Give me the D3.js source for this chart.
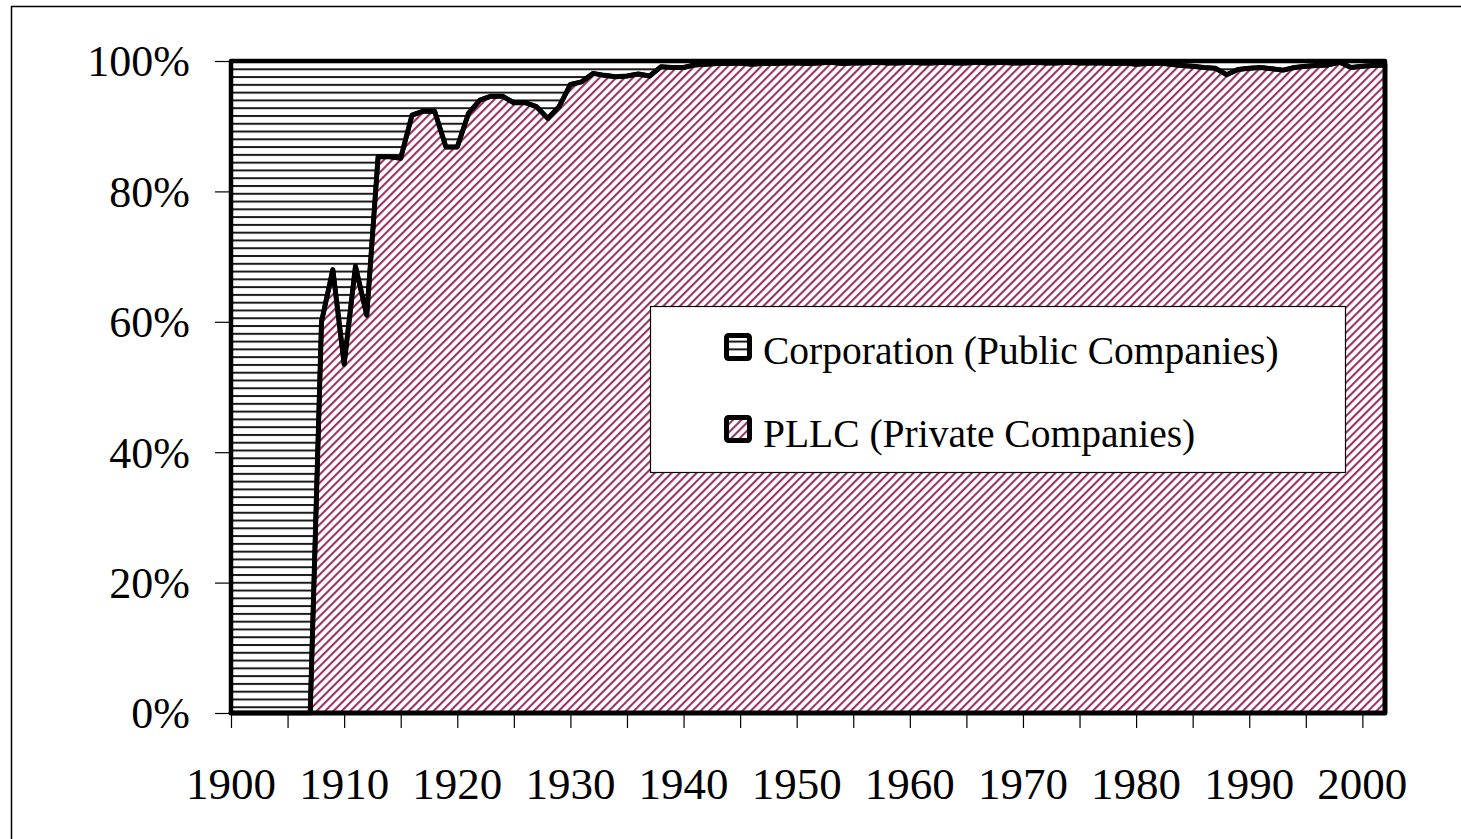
<!DOCTYPE html>
<html>
<head>
<meta charset="utf-8">
<script src="https://cdn.jsdelivr.net/npm/d3@7"></script>
<style>
  body { margin: 0; background: #fff; }
  svg text { font-family: "Liberation Serif", "Times New Roman", serif; fill: #000; }
</style>
</head>
<body>
<div id="chart"></div>
<script>

// Share of firms by legal form, per year (percent)
var years = d3.range(1900, 2003);

var pllcShare = [
	0, 0, 0, 0, 0, 0, 0, 0, 60, 68,                                  // 1900-1909
	53.5, 68.5, 61, 85.3, 85.3, 85.1, 91.7, 92.3, 92.3, 86.8,          // 1910-1919
	86.8, 92, 94, 94.6, 94.6, 93.6, 93.6, 93, 91.2, 93,                // 1920-1929
	96.4, 96.8, 98.1, 97.8, 97.6, 97.7, 98, 97.7, 99.1, 99,            // 1930-1939
	99, 99.4, 99.5, 99.6, 99.6, 99.7, 99.5, 99.6, 99.6, 99.7,          // 1940-1949
	99.7, 99.6, 99.7, 99.8, 99.6, 99.7, 99.7, 99.8, 99.7, 99.7,        // 1950-1959
	99.8, 99.7, 99.7, 99.8, 99.7, 99.7, 99.8, 99.7, 99.8, 99.7,        // 1960-1969
	99.7, 99.8, 99.7, 99.7, 99.8, 99.7, 99.7, 99.7, 99.6, 99.7,        // 1970-1979
	99.5, 99.6, 99.7, 99.5, 99.3, 99.2, 99, 98.9, 97.9, 98.7,          // 1980-1989
	98.9, 99, 98.8, 98.6, 99, 99.2, 99.3, 99.4, 99.8, 99,              // 1990-1999
	99.2, 99.3, 99.4                                                   // 2000-2002
];

var corpShare = [
	100, 100, 100, 100, 100, 100, 100, 100, 40, 32,
	46.5, 31.5, 39, 14.7, 14.7, 14.9, 8.3, 7.7, 7.7, 13.2,
	13.2, 8, 6, 5.4, 5.4, 6.4, 6.4, 7, 8.8, 7,
	3.6, 3.2, 1.9, 2.2, 2.4, 2.3, 2, 2.3, 0.9, 1,
	1, 0.6, 0.5, 0.4, 0.4, 0.3, 0.5, 0.4, 0.4, 0.3,
	0.3, 0.4, 0.3, 0.2, 0.4, 0.3, 0.3, 0.2, 0.3, 0.3,
	0.2, 0.3, 0.3, 0.2, 0.3, 0.3, 0.2, 0.3, 0.2, 0.3,
	0.3, 0.2, 0.3, 0.3, 0.2, 0.3, 0.3, 0.3, 0.4, 0.3,
	0.5, 0.4, 0.3, 0.5, 0.7, 0.8, 1, 1.1, 2.1, 1.3,
	1.1, 1, 1.2, 1.4, 1, 0.8, 0.7, 0.6, 0.2, 1,
	0.8, 0.7, 0.6
];

var seriesNames = ["Corporation (Public Companies)", "PLLC (Private Companies)"];
var yTicks = [0, 20, 40, 60, 80, 100];
var xLabelYears = d3.range(1900, 2001, 10);
var xTickYears = d3.range(1900, 2001, 5);

var data = years.map(function(y, i) {
	return { year: y, pllc: pllcShare[i], corp: corpShare[i] };
});

// Display sizes
var width = 1461,
	height = 839;

var x = d3.scaleLinear().domain([1900, 2002]).range([231, 1385]);
var y = d3.scaleLinear().domain([0, 100]).range([713, 61]);

var svg = d3.select("#chart").append("svg")
	.attr("width", width)
	.attr("height", height);

// Fill patterns
var defs = svg.append("defs");

var hPattern = defs.append("pattern")
	.attr("id", "hlines")
	.attr("patternUnits", "userSpaceOnUse")
	.attr("width", 10)
	.attr("height", 7.78)
	.attr("y", 69.3 - 1);
hPattern.append("rect").attr("width", 10).attr("height", 7.78).attr("fill", "#fff");
hPattern.append("rect").attr("y", 0).attr("width", 10).attr("height", 2).attr("fill", "#1a1a1a");

var dPattern = defs.append("pattern")
	.attr("id", "diag")
	.attr("patternUnits", "userSpaceOnUse")
	.attr("width", 5.9)
	.attr("height", 20)
	.attr("patternTransform", "rotate(45)");
dPattern.append("rect").attr("width", 5.9).attr("height", 20).attr("fill", "#fff");
dPattern.append("rect").attr("width", 2.1).attr("height", 20).attr("fill", "#993366");

// Outer chart border (only top and left fall inside the picture)
svg.append("rect")
	.attr("x", 11.5)
	.attr("y", 6.5)
	.attr("width", 1470)
	.attr("height", 850)
	.attr("fill", "none")
	.attr("stroke", "#000")
	.attr("stroke-width", 1.5);

// Stacked areas
var corpArea = d3.area()
	.x(function(d) { return x(d.year); })
	.y0(function(d) { return y(d.pllc); })
	.y1(function(d) { return y(d.pllc + d.corp); });

var pllcArea = d3.area()
	.x(function(d) { return x(d.year); })
	.y0(y(0))
	.y1(function(d) { return y(d.pllc); });

svg.append("path")
	.datum(data)
	.attr("d", corpArea)
	.attr("fill", "url(#hlines)");

svg.append("path")
	.datum(data)
	.attr("d", pllcArea)
	.attr("fill", "url(#diag)");

svg.append("path")
	.datum(data)
	.attr("d", corpArea)
	.attr("fill", "none")
	.attr("stroke", "#000")
	.attr("stroke-width", 4.5)
	.attr("stroke-linejoin", "round");

svg.append("path")
	.datum(data)
	.attr("d", pllcArea)
	.attr("fill", "none")
	.attr("stroke", "#000")
	.attr("stroke-width", 5)
	.attr("stroke-linejoin", "round");

// Y axis
var yAxis = svg.append("g")
	.attr("transform", "translate(230,0)")
	.call(d3.axisLeft(y).tickValues(yTicks).tickSize(15).tickPadding(25)
		.tickFormat(function(d) { return d + "%"; }));
yAxis.select(".domain").remove();
yAxis.selectAll("line").attr("stroke", "#000").attr("stroke-width", 1.2);
yAxis.selectAll("text")
	.attr("font-size", 44)
	.attr("font-family", "'Liberation Serif', 'Times New Roman', serif")
	.attr("dy", "0.34em");

// X axis: ticks every 5 years, labels every 10
var xAxis = svg.append("g")
	.attr("transform", "translate(0,713)")
	.call(d3.axisBottom(x).tickValues(xTickYears).tickSize(15).tickFormat(""));
xAxis.select(".domain").remove();
xAxis.selectAll("line").attr("stroke", "#000").attr("stroke-width", 1.2);

svg.append("g")
	.selectAll("text")
	.data(xLabelYears)
	.enter().append("text")
		.attr("x", function(d) { return x(d); })
		.attr("y", 799)
		.attr("text-anchor", "middle")
		.attr("font-size", 45)
		.text(function(d) { return d; });

// Legend
var legend = svg.append("g");

legend.append("rect")
	.attr("x", 650.5)
	.attr("y", 306.5)
	.attr("width", 695)
	.attr("height", 166)
	.attr("fill", "#fff")
	.attr("stroke", "#000")
	.attr("stroke-width", 1.2);

var legendRows = [
	{ name: seriesNames[0], fill: "url(#hlines)", top: 333, base: 364 },
	{ name: seriesNames[1], fill: "url(#diag)", top: 415, base: 447 }
];

legendRows.forEach(function(row) {
	legend.append("rect")
		.attr("x", 726.5)
		.attr("y", row.top + 2.5)
		.attr("width", 23)
		.attr("height", 23)
		.attr("rx", 2)
		.attr("fill", row.fill)
		.attr("stroke", "#000")
		.attr("stroke-width", 5);
	legend.append("text")
		.attr("x", 763)
		.attr("y", row.base)
		.attr("font-size", 39.5)
		.text(row.name);
});

</script>
</body>
</html>
